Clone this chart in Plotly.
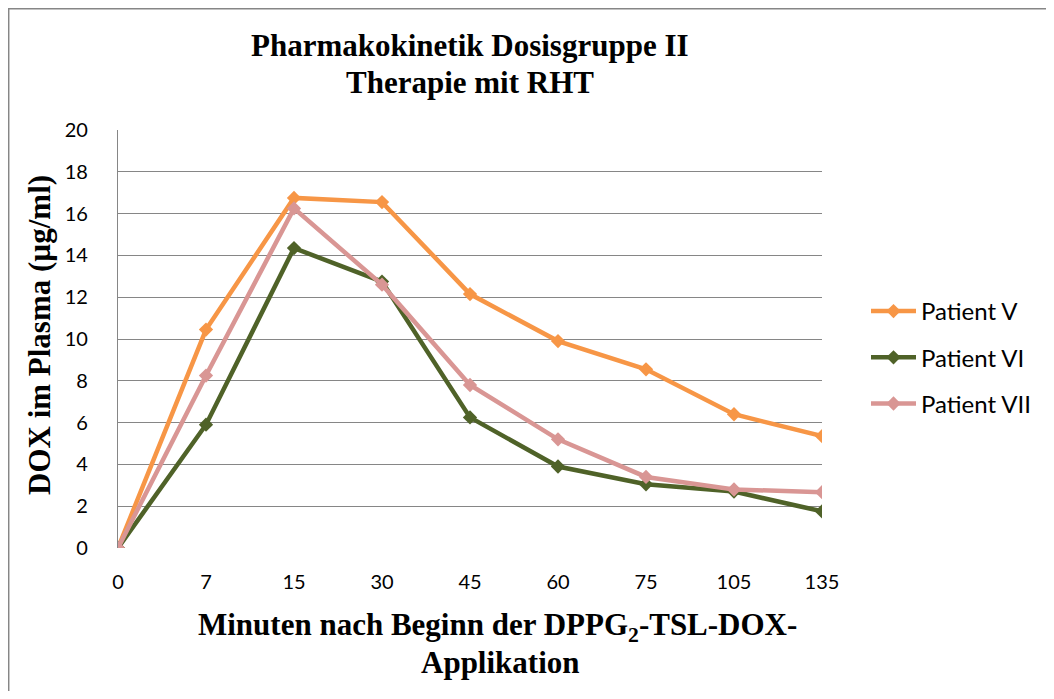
import plotly.graph_objects as go

categories = ["0", "7", "15", "30", "45", "60", "75", "105", "135"]
patient_v = [0, 10.45, 16.75, 16.55, 12.15, 9.9, 8.55, 6.4, 5.35]
patient_vi = [0, 5.9, 14.35, 12.75, 6.25, 3.9, 3.05, 2.7, 1.75]
patient_vii = [0, 8.25, 16.25, 12.6, 7.8, 5.2, 3.4, 2.8, 2.67]
y_ticks = [0, 2, 4, 6, 8, 10, 12, 14, 16, 18, 20]

series = [
    ("Patient V", patient_v, "#F79646"),
    ("Patient VI", patient_vi, "#4F6228"),
    ("Patient VII", patient_vii, "#D99694"),
]

OFF = 8  # page body margin
W, H = 1054 - OFF, 699 - 2 * OFF
# plot area in screen coords: x 118..822, y 130..548
L = 118 - OFF
T = 130 - OFF
R = W - (822 - OFF)
B = H - (548 - OFF)
pw = W - L - R
ph = H - T - B


def px(xs):
    return (xs - OFF - L) / pw


def py(ys):
    return 1 - (ys - OFF - T) / ph


fig = go.Figure()
for i, (name, vals, col) in enumerate(series):
    fig.add_trace(go.Scatter(
        x=categories, y=vals, name=name, mode="lines+markers",
        line=dict(color=col, width=4.5),
        marker=dict(symbol="diamond", size=11, color=col),
        legendgroup=f"g{i}",
    ))

serif = "Liberation Serif"
sans = "Lato"

fig.update_layout(
    width=W, height=H,
    margin=dict(l=L, r=R, t=T, b=B),
    paper_bgcolor="white", plot_bgcolor="white",
    xaxis=dict(
        type="category", categoryorder="array", categoryarray=categories,
        range=[0, 8], showgrid=False, zeroline=False, showline=False,
        ticks="", tickfont=dict(family=sans, size=20, color="black"),
        ticklabelstandoff=20,
    ),
    yaxis=dict(
        range=[0, 20], tickvals=y_ticks, showgrid=True, gridcolor="#868686",
        gridwidth=1.3, zeroline=False, showline=True, linecolor="#868686",
        linewidth=1.3, ticks="", tickfont=dict(family=sans, size=20, color="black"),
        ticklabelstandoff=25,
    ),
    legend=dict(
        x=px(866), xanchor="left", y=py(289), yanchor="top",
        font=dict(family=sans, size=24, color="black"),
        tracegroupgap=12, bgcolor="rgba(0,0,0,0)", itemwidth=45,
    ),
    showlegend=True,
)

texts = [
    ("<b>Pharmakokinetik Dosisgruppe II</b>", 470, 45, 0),
    ("<b>Therapie mit RHT</b>", 470, 82, 0),
    ("<b>Minuten nach Beginn der DPPG<sub>2</sub>-TSL-DOX-</b>", 497, 627, 0),
    ("<b>Applikation</b>", 500, 662, 0),
    ("<b>DOX im Plasma (µg/ml)</b>", 39, 335, -90),
]
for txt, xs, ys, ang in texts:
    fig.add_annotation(
        text=txt, textangle=ang,
        font=dict(family=serif, size=31, color="black"),
        xref="paper", yref="paper", x=px(xs), y=py(ys),
        xanchor="center", yanchor="middle", showarrow=False,
    )

fig.add_shape(
    type="rect", xref="paper", yref="paper",
    x0=px(8.7), x1=px(1050), y0=py(720), y1=py(8.7),
    line=dict(color="#868686", width=1.5), fillcolor="rgba(0,0,0,0)", layer="below",
)

fig.write_html("out.html")
